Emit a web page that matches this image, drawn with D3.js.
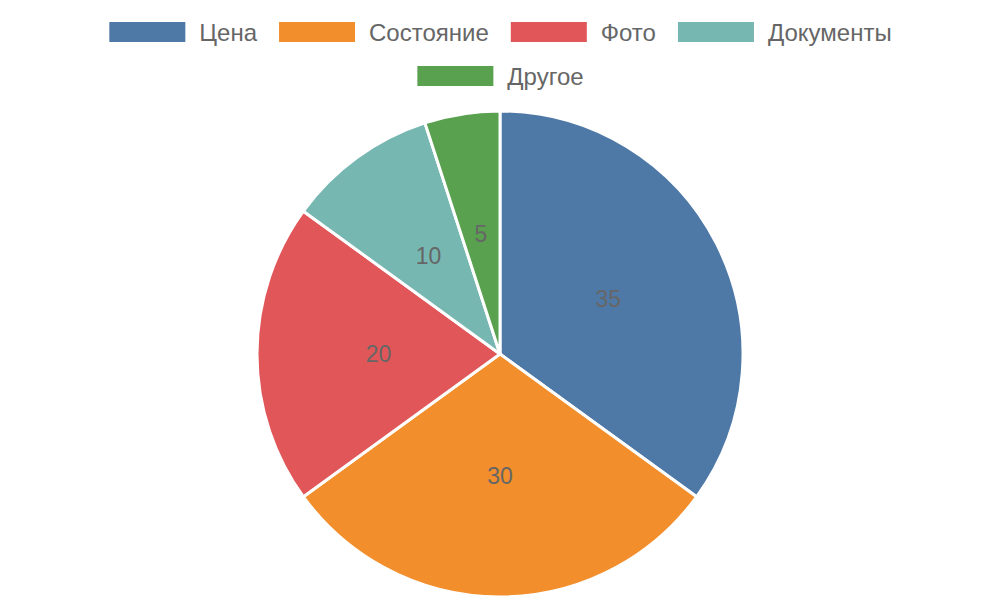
<!DOCTYPE html>
<html><head><meta charset="utf-8">
<script src="https://cdn.jsdelivr.net/npm/d3@7"></script>
<style>body{margin:0;background:#fff}svg{display:block}</style>
</head><body>
<svg id="c" width="1000" height="600"></svg>
<script>
const categories = ["Цена", "Состояние", "Фото", "Документы", "Другое"];
const values = [35, 30, 20, 10, 5];
const colors = ["#4e79a7", "#f28e2b", "#e15759", "#76b7b2", "#59a14f"];

const svg = d3.select("#c");
const font = "Liberation Sans, Arial, Helvetica, sans-serif";
const cx = 500, cy = 354, r = 243;

const pie = d3.pie().sort(null).value(d => d)(values);
const arc = d3.arc().innerRadius(0).outerRadius(r);
const labelArc = d3.arc().innerRadius(r / 2).outerRadius(r / 2);
const g = svg.append("g").attr("transform", `translate(${cx},${cy})`);
g.selectAll("path").data(pie).join("path")
  .attr("d", arc).attr("fill", (d, i) => colors[i])
  .attr("stroke", "#fff").attr("stroke-width", 3).attr("stroke-linejoin", "round");
g.selectAll("text").data(pie).join("text")
  .attr("transform", d => `translate(${labelArc.centroid(d)})`)
  .attr("text-anchor", "middle").attr("dominant-baseline", "central")
  .attr("font-family", font).attr("font-size", 23).attr("fill", "#666")
  .text(d => d.data);

// legend
const fs = 24;
const boxW = 76, boxH = 20, gapText = 14, gapItem = 22, maxW = 900;
const tmp = svg.append("text").attr("font-family", font).attr("font-size", fs);
const widths = categories.map(c => { tmp.text(c); return tmp.node().getComputedTextLength(); });
tmp.remove();
const rows = [[]]; let rowW = 0;
categories.forEach((c, i) => {
  const w = boxW + gapText + widths[i];
  if (rows[rows.length - 1].length && rowW + gapItem + w > maxW) { rows.push([]); rowW = 0; }
  rowW += (rows[rows.length - 1].length ? gapItem : 0) + w;
  rows[rows.length - 1].push(i);
});
const lg = svg.append("g");
rows.forEach((row, ri) => {
  const total = row.reduce((s, i) => s + boxW + gapText + widths[i], 0) + gapItem * (row.length - 1);
  let x = 500.5 - total / 2;
  const yc = 32 + ri * 44;
  row.forEach(i => {
    lg.append("rect").attr("x", x).attr("y", yc - boxH / 2).attr("width", boxW).attr("height", boxH).attr("fill", colors[i]);
    lg.append("text").attr("x", x + boxW + gapText).attr("y", yc).attr("dominant-baseline", "central")
      .attr("font-family", font).attr("font-size", fs).attr("fill", "#666").text(categories[i]);
    x += boxW + gapText + widths[i] + gapItem;
  });
});
</script>
</body></html>
